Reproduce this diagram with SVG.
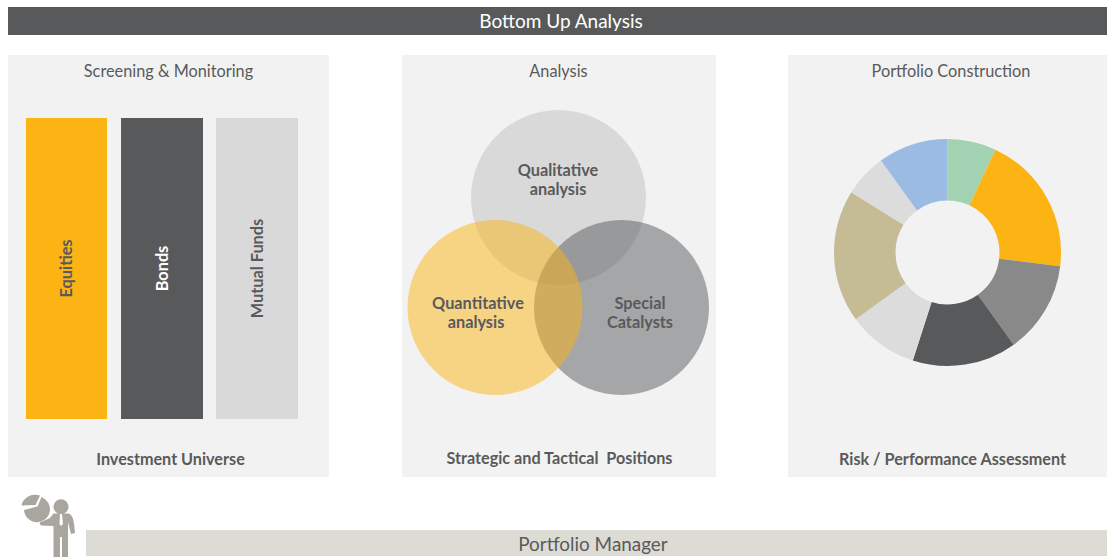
<svg xmlns="http://www.w3.org/2000/svg" width="1107" height="557" viewBox="0 0 1107 557">
<style>
text{font-family:Lato,"Liberation Sans",sans-serif;text-anchor:middle;fill:#595a5c;white-space:pre}
.h{font-size:16.300px}
.b{font-size:16.200px;font-weight:700}
.c{font-size:16.300px;font-weight:700}
.panel{fill:#f2f2f2}
.ic{fill:#a8a69e}
</style>
<rect width="1107" height="557" fill="#fff"/>
<g id="header"><rect x="8" y="7" width="1099" height="28" fill="#58595b"/><text x="561" y="27.700" font-size="19" style="fill:#fff">Bottom Up Analysis</text></g>
<g id="screening">
<rect class="panel" x="8" y="55" width="321" height="422"/>
<text class="h" x="168.500" y="77.400">Screening &amp; Monitoring</text>
<g id="equities"><rect x="26" y="118" width="81" height="301" fill="#fcb415"/><text class="c" transform="translate(71.500,268.500) rotate(-90)">Equities</text></g>
<g id="bonds"><rect x="121" y="118" width="82" height="301" fill="#58595b"/><text class="c" transform="translate(167.500,268.500) rotate(-90)" style="fill:#fff">Bonds</text></g>
<g id="funds"><rect x="216" y="118" width="82" height="301" fill="#d9d9d9"/><text class="c" transform="translate(262.500,268.500) rotate(-90)">Mutual Funds</text></g>
<text class="b" x="170.500" y="464.700">Investment Universe</text>
</g>
<g id="analysis">
<rect class="panel" x="402" y="55" width="314" height="422"/>
<text class="h" x="558.500" y="77.400">Analysis</text>
<circle cx="558.500" cy="197.500" r="87.500" fill="#d9d9d9"/>
<circle cx="621.500" cy="307.500" r="87.500" fill="#58595b" fill-opacity=".5"/>
<circle cx="495" cy="307.500" r="87.500" fill="#fcb415" fill-opacity=".5"/>
<text class="c" x="558" y="176.400">Qualitative</text><text class="c" x="558" y="195.400">analysis</text>
<text class="c" x="478" y="308.500">Quantitative</text><text class="c" x="476" y="327.500">analysis</text>
<text class="c" x="640" y="308.500">Special</text><text class="c" x="640" y="327.500">Catalysts</text>
<text class="b" x="559.500" y="463.700">Strategic and Tactical  Positions</text>
</g>
<g id="portfolio">
<rect class="panel" x="788" y="55" width="319" height="422"/>
<text class="h" x="951" y="77.400">Portfolio Construction</text>
<path fill="#a3d2b2" d="M947.500 139A113.500 113.500 0 0 1 995.470 149.630L969.480 205.370A52 52 0 0 0 947.500 200.500Z"/>
<path fill="#fcb415" d="M995.470 149.630A113.500 113.500 0 0 1 1060.180 266.130L999.120 258.750A52 52 0 0 0 969.480 205.370Z"/>
<path fill="#898989" d="M1060.180 266.130A113.500 113.500 0 0 1 1013.730 344.670L977.840 294.730A52 52 0 0 0 999.120 258.750Z"/>
<path fill="#58595b" d="M1013.730 344.670A113.500 113.500 0 0 1 912.800 360.560L931.600 302.010A52 52 0 0 0 977.840 294.730Z"/>
<path fill="#dcdcdc" d="M912.800 360.560A113.500 113.500 0 0 1 855.790 319.370L905.480 283.140A52 52 0 0 0 931.600 302.010Z"/>
<path fill="#c5bc96" d="M855.790 319.370A113.500 113.500 0 0 1 851.350 192.190L903.450 224.870A52 52 0 0 0 905.480 283.140Z"/>
<path fill="#dcdcdc" d="M851.350 192.190A113.500 113.500 0 0 1 880.940 160.560L917.010 210.380A52 52 0 0 0 903.450 224.870Z"/>
<path fill="#9bbbe3" d="M880.940 160.560A113.500 113.500 0 0 1 947.500 139V200.500A52 52 0 0 0 917.010 210.380Z"/>
<text class="b" x="952.500" y="464.700">Risk / Performance Assessment</text>
</g>
<g id="manager">
<rect x="86" y="530" width="1021" height="26" fill="#dcdcd4"/>
<text x="593" y="550.500" font-size="18.900">Portfolio Manager</text>
<g id="manager-icon" class="ic">
<path d="M35.500 505L21.500 505.500A14 13 0 0 1 40 495.500Z"/>
<path d="M37.500 506.500L41.500 497A13 13 0 1 1 24 510Z"/>
<circle cx="61" cy="506.700" r="7.500"/>
<path d="M53.500 513.500H68C72 514 74 518 75 533L71 534L68 522V557H62V537H60V557H53.500V526L42 525.500C39 525 39 522 42 521.500L50 518Z"/>
<path d="M60 514H62L63 524L61 526L59.500 524Z" fill="#fff"/>
</g>
</g>
</svg>
